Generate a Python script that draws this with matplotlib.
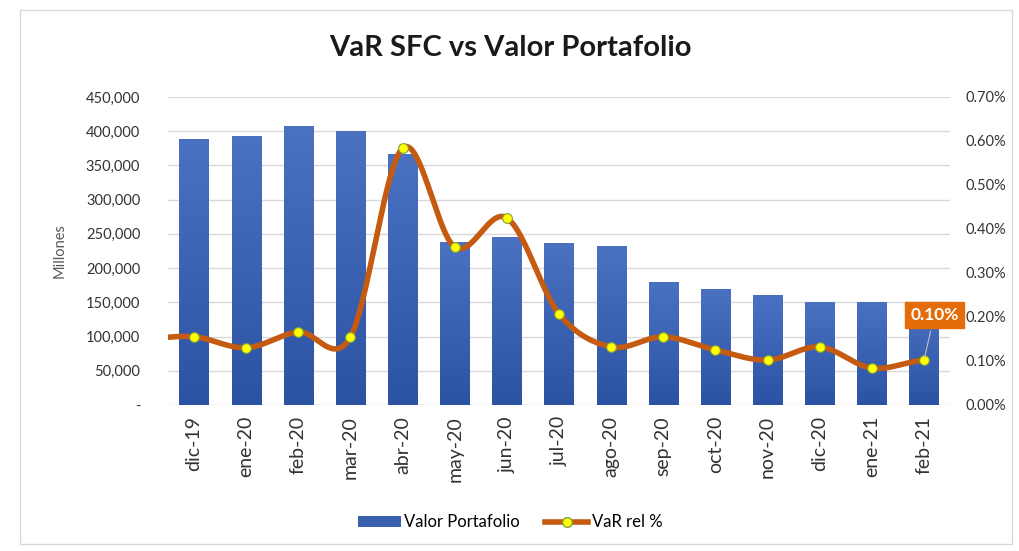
import numpy as np
import matplotlib
matplotlib.use("Agg")
import matplotlib.pyplot as plt
from matplotlib.patches import Rectangle
from matplotlib.lines import Line2D
from matplotlib.ticker import FuncFormatter, MultipleLocator

plt.rcParams['font.family'] = ['Lato', 'DejaVu Sans']

meses = ['dic-19', 'ene-20', 'feb-20', 'mar-20', 'abr-20', 'may-20', 'jun-20', 'jul-20',
         'ago-20', 'sep-20', 'oct-20', 'nov-20', 'dic-20', 'ene-21', 'feb-21']
valor_portafolio = [389000, 393000, 407000, 400000, 367000, 238000, 245000, 237000,
                    232000, 180000, 170000, 161000, 151000, 151000, 148000]
var_rel = [0.155, 0.130, 0.166, 0.155, 0.584, 0.359, 0.425, 0.207,
           0.132, 0.155, 0.125, 0.102, 0.132, 0.084, 0.102]
var_prev = 0.150  # mes anterior (fuera del rango visible)

fig = plt.figure(figsize=(10.2, 5.51), dpi=100)
fig.patch.set_facecolor('white')
fig.add_artist(Rectangle((0.02, 0.012), 0.972, 0.97, transform=fig.transFigure,
                         fill=False, edgecolor='#d9d9d9', lw=1))

ax = fig.add_axes([0.1647, 0.265, 0.7667, 0.559])
x = np.arange(len(meses))

# barras con degradado
ancho = 0.56
grad = np.linspace(0, 1, 256).reshape(-1, 1)
cmap = matplotlib.colors.LinearSegmentedColormap.from_list('azul', ['#2c52a3', '#4b72c2'])
bars = ax.bar(x, valor_portafolio, width=ancho, color='none', zorder=2)
for b in bars:
    bx, bw, bh = b.get_x(), b.get_width(), b.get_height()
    im = ax.imshow(grad, cmap=cmap, aspect='auto', origin='lower',
                   extent=[bx, bx + bw, 0, bh], zorder=2)
    im.set_clip_path(b)
ax.set_xlim(-0.5, len(meses) - 0.5)
ax.set_ylim(0, 450000)

ax.yaxis.set_major_locator(MultipleLocator(50000))
ax.yaxis.set_major_formatter(FuncFormatter(lambda v, p: '-' if v == 0 else f'{int(v):,}'))
ax.grid(axis='y', color='#d9d9d9', lw=1, zorder=0)
ax.set_axisbelow(True)
for s in ax.spines.values():
    s.set_visible(False)
ax.tick_params(axis='y', length=0, labelsize=10.5, colors='#333333', pad=20)
ax.tick_params(axis='x', length=0, labelsize=14, colors='#333333', pad=8)
ax.set_xticks(x)
ax.set_xticklabels(meses, rotation=90)
ax.set_ylabel('Millones', fontsize=10.5, color='#595959', labelpad=14)

# eje derecho
ax2 = ax.twinx()
ax2.set_ylim(0, 0.70)
ax2.yaxis.set_major_locator(MultipleLocator(0.10))
ax2.yaxis.set_major_formatter(FuncFormatter(lambda v, p: f'{v:.2f}%'))
for s in ax2.spines.values():
    s.set_visible(False)
ax2.tick_params(axis='y', length=0, labelsize=10.5, colors='#333333', pad=11)

# linea suavizada (Catmull-Rom)
px = np.concatenate([[-1], x]).astype(float)
py = np.array([var_prev] + var_rel)
ext_x = np.concatenate([[px[0] - 1], px, [px[-1] + 1]])
ext_y = np.concatenate([[py[0]], py, [py[-1]]])
sx, sy = [], []
for i in range(1, len(ext_x) - 2):
    t = np.linspace(0, 1, 40)
    for arr, out in ((ext_x, sx), (ext_y, sy)):
        p0, p1, p2, p3 = arr[i - 1], arr[i], arr[i + 1], arr[i + 2]
        out.extend(0.5 * ((2 * p1) + (-p0 + p2) * t + (2 * p0 - 5 * p1 + 4 * p2 - p3) * t ** 2
                          + (-p0 + 3 * p1 - 3 * p2 + p3) * t ** 3))
ax2.plot(sx, sy, color='#c55a11', lw=4, solid_capstyle='round', zorder=3, clip_on=True)
ax2.plot(x, var_rel, ls='none', marker='o', ms=7, mfc='#ffff00', mec='#7f9f3f', mew=0.8, zorder=4)

# etiqueta del ultimo punto
ax2.annotate(f'{var_rel[-1]:.2f}%', xy=(x[-1], var_rel[-1]), xytext=(x[-1] + 0.2, 0.205),
             ha='center', va='center', fontsize=12.5, fontweight='bold', color='white',
             bbox=dict(boxstyle='square,pad=0.3', fc='#e46c0a', ec='#e46c0a'),
             arrowprops=dict(arrowstyle='-', color='#bfbfbf', lw=0.8), zorder=5)

fig.text(0.5, 0.912, 'VaR SFC vs Valor Portafolio', ha='center', va='center',
         fontsize=21, fontweight='bold', color='#1a1a1a')

handles = [Rectangle((0, 0), 1, 1, fc='#3a60b0'),
           Line2D([], [], color='#c55a11', lw=4, marker='o', ms=7, mfc='#ffff00', mec='#7f9f3f')]
fig.legend(handles, ['Valor Portafolio', 'VaR rel %'], loc='center', bbox_to_anchor=(0.5, 0.052),
           ncol=2, frameon=False, fontsize=12, handlelength=2.6, columnspacing=1.5, handletextpad=0.2)

fig.savefig('out.png', dpi=100)
